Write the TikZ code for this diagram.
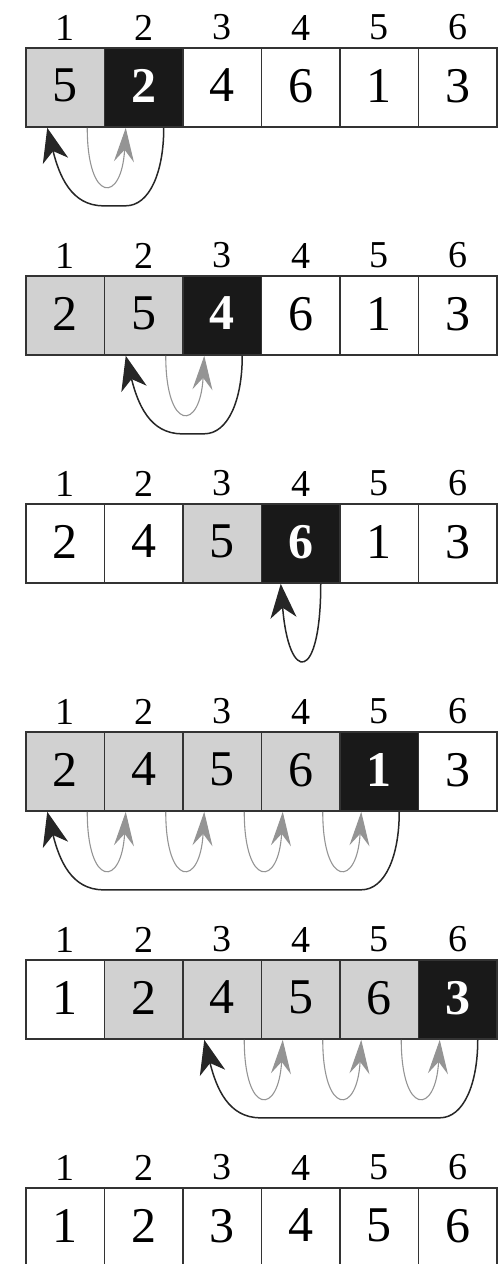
\documentclass[tikz,border=0pt]{standalone}
\usepackage{fontspec}
\setmainfont{Liberation Serif}
\usepackage{xcolor}
\usepackage{tikz}
\usetikzlibrary{arrows.meta,calc}

\definecolor{cellgray}{gray}{0.82}
\definecolor{loopgray}{gray}{0.58}

\begin{document}
\begin{tikzpicture}[node distance=39.25pt]
    \tikzstyle{cell} = [rectangle, minimum width=39.25pt, minimum height=39.5pt, text depth=2pt, draw=black!80, line width=0.8pt, fill=white, font=\fontsize{25}{25}\selectfont, label distance=1.5pt]
    \tikzstyle{sorted} = [cell, fill=cellgray]
    \tikzstyle{keycell} = [cell, fill=black!90, text=white, font=\fontsize{25}{25}\selectfont\bfseries]
    \tikzstyle{idx} = [font=\fontsize{19}{19}\selectfont]
    \tikzstyle{shiftarrow} = [draw=loopgray, line width=0.55pt, -{Stealth[length=17pt, width=10pt, inset=6pt, color=loopgray]}]
    \tikzstyle{keyarrow} = [draw=black!85, line width=0.75pt, -{Stealth[length=17pt, width=13pt, inset=5pt]}]

    \useasboundingbox (0,0) rectangle (250pt,-632pt);

    % (a) key 2
    \node (a1) [sorted, label={[idx]above:1}] at (32.625pt,-43.75pt) {5};
    \node (a2) [keycell, right of=a1, label={[idx]above:2}] {2};
    \node (a3) [cell, right of=a2, label={[idx]above:3}] {4};
    \node (a4) [cell, right of=a3, label={[idx]above:4}] {6};
    \node (a5) [cell, right of=a4, label={[idx]above:5}] {1};
    \node (a6) [cell, right of=a5, label={[idx]above:6}] {3};

    % (b) key 4
    \node (b1) [sorted, node distance=114pt, below of=a1, label={[idx]above:1}] {2};
    \node (b2) [sorted, right of=b1, label={[idx]above:2}] {5};
    \node (b3) [keycell, right of=b2, label={[idx]above:3}] {4};
    \node (b4) [cell, right of=b3, label={[idx]above:4}] {6};
    \node (b5) [cell, right of=b4, label={[idx]above:5}] {1};
    \node (b6) [cell, right of=b5, label={[idx]above:6}] {3};

    % (c) key 6
    \node (c1) [cell, node distance=114pt, below of=b1, label={[idx]above:1}] {2};
    \node (c2) [cell, right of=c1, label={[idx]above:2}] {4};
    \node (c3) [sorted, right of=c2, label={[idx]above:3}] {5};
    \node (c4) [keycell, right of=c3, label={[idx]above:4}] {6};
    \node (c5) [cell, right of=c4, label={[idx]above:5}] {1};
    \node (c6) [cell, right of=c5, label={[idx]above:6}] {3};

    % (d) key 1
    \node (d1) [sorted, node distance=114pt, below of=c1, label={[idx]above:1}] {2};
    \node (d2) [sorted, right of=d1, label={[idx]above:2}] {4};
    \node (d3) [sorted, right of=d2, label={[idx]above:3}] {5};
    \node (d4) [sorted, right of=d3, label={[idx]above:4}] {6};
    \node (d5) [keycell, right of=d4, label={[idx]above:5}] {1};
    \node (d6) [cell, right of=d5, label={[idx]above:6}] {3};

    % (e) key 3
    \node (e1) [cell, node distance=114pt, below of=d1, label={[idx]above:1}] {1};
    \node (e2) [sorted, right of=e1, label={[idx]above:2}] {2};
    \node (e3) [sorted, right of=e2, label={[idx]above:3}] {4};
    \node (e4) [sorted, right of=e3, label={[idx]above:4}] {5};
    \node (e5) [sorted, right of=e4, label={[idx]above:5}] {6};
    \node (e6) [keycell, right of=e5, label={[idx]above:6}] {3};

    % (f) sorted
    \node (f1) [cell, node distance=114pt, below of=e1, label={[idx]above:1}] {1};
    \node (f2) [cell, right of=f1, label={[idx]above:2}] {2};
    \node (f3) [cell, right of=f2, label={[idx]above:3}] {3};
    \node (f4) [cell, right of=f3, label={[idx]above:4}] {4};
    \node (f5) [cell, right of=f4, label={[idx]above:5}] {5};
    \node (f6) [cell, right of=f5, label={[idx]above:6}] {6};

    % shifts
    \draw [shiftarrow] ([xshift=11pt]a1.south) .. controls +(0,-38pt) and +(-2pt,-38pt) .. ([xshift=-9pt]a2.south);
    \draw [shiftarrow] ([xshift=11pt]b2.south) .. controls +(0,-38pt) and +(-2pt,-38pt) .. ([xshift=-9pt]b3.south);
    \draw [shiftarrow] ([xshift=11pt]d1.south) .. controls +(0,-38pt) and +(-2pt,-38pt) .. ([xshift=-9pt]d2.south);
    \draw [shiftarrow] ([xshift=11pt]d2.south) .. controls +(0,-38pt) and +(-2pt,-38pt) .. ([xshift=-9pt]d3.south);
    \draw [shiftarrow] ([xshift=11pt]d3.south) .. controls +(0,-38pt) and +(-2pt,-38pt) .. ([xshift=-9pt]d4.south);
    \draw [shiftarrow] ([xshift=11pt]d4.south) .. controls +(0,-38pt) and +(-2pt,-38pt) .. ([xshift=-9pt]d5.south);
    \draw [shiftarrow] ([xshift=11pt]e3.south) .. controls +(0,-38pt) and +(-2pt,-38pt) .. ([xshift=-9pt]e4.south);
    \draw [shiftarrow] ([xshift=11pt]e4.south) .. controls +(0,-38pt) and +(-2pt,-38pt) .. ([xshift=-9pt]e5.south);
    \draw [shiftarrow] ([xshift=11pt]e5.south) .. controls +(0,-38pt) and +(-2pt,-38pt) .. ([xshift=-9pt]e6.south);

    % key moves
    \draw [keyarrow] ([xshift=10pt]a2.south) .. controls +(0,-22pt) and +(12pt,0) .. ($(a2.south)+(-9pt,-39pt)$) -- ($(a1.south)+(19pt,-39pt)$) .. controls +(-16pt,0) and +(6pt,-24pt) .. ([xshift=-9pt]a1.south);
    \draw [keyarrow] ([xshift=10pt]b3.south) .. controls +(0,-22pt) and +(12pt,0) .. ($(b3.south)+(-9pt,-39pt)$) -- ($(b2.south)+(19pt,-39pt)$) .. controls +(-16pt,0) and +(6pt,-24pt) .. ([xshift=-9pt]b2.south);
    \draw [keyarrow] ([xshift=10pt]c4.south) .. controls +(0,-50pt) and +(4pt,-50pt) .. ([xshift=-10pt]c4.south);
    \draw [keyarrow] ([xshift=10pt]d5.south) .. controls +(0,-22pt) and +(12pt,0) .. ($(d5.south)+(-9pt,-39pt)$) -- ($(d1.south)+(19pt,-39pt)$) .. controls +(-16pt,0) and +(6pt,-24pt) .. ([xshift=-9pt]d1.south);
    \draw [keyarrow] ([xshift=10pt]e6.south) .. controls +(0,-22pt) and +(12pt,0) .. ($(e6.south)+(-9pt,-39pt)$) -- ($(e3.south)+(19pt,-39pt)$) .. controls +(-16pt,0) and +(6pt,-24pt) .. ([xshift=-9pt]e3.south);
\end{tikzpicture}
\end{document}
